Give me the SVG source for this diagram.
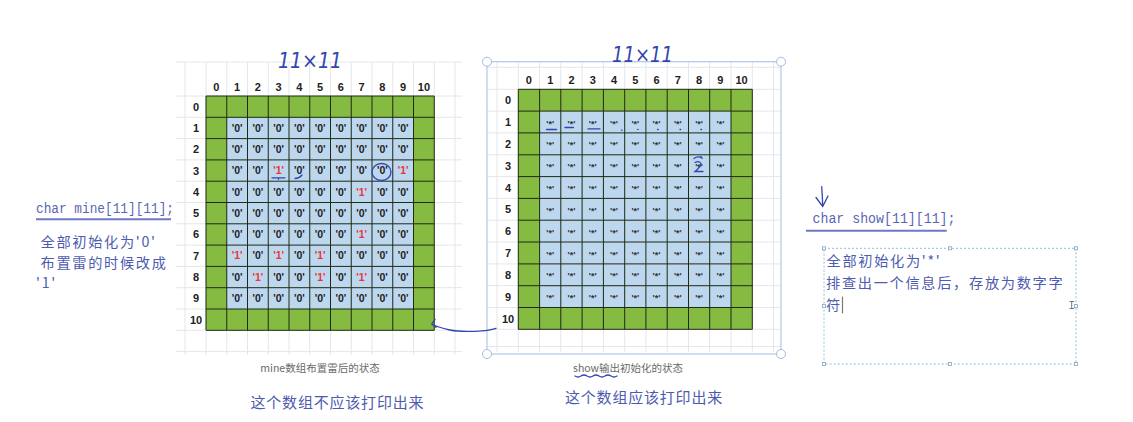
<svg xmlns="http://www.w3.org/2000/svg" width="1133" height="422" viewBox="0 0 1133 422">
<style>
.bg{stroke:#e4e6ea;stroke-width:1;fill:none}
.gl{stroke:#1f2a14;stroke-width:1;fill:none}
.gr{fill:#86bb42}
.bl{fill:#bdd7ee}
.hd{font:bold 11px "Liberation Sans",Arial,sans-serif;fill:#222;text-anchor:middle}
.cv{font:bold 10.5px "Liberation Sans",Arial,sans-serif;fill:#222;text-anchor:middle}
.r{fill:#ee3535}
.st{font:bold 9px "Liberation Sans",Arial,sans-serif;fill:#333;text-anchor:middle}
.ann{font-family:"Noto Sans CJK SC",sans-serif;font-size:14.2px;letter-spacing:1.7px;fill:#4d5bb0}
.big{font-family:"Noto Sans CJK SC",sans-serif;font-size:15px;letter-spacing:0.8px;fill:#4d5bb0}
.code{font-family:"Liberation Mono",monospace;font-size:14px;fill:#5a66b4}
.cap{font-family:"Noto Sans CJK SC",sans-serif;font-size:10.5px;fill:#6a6a6a;text-anchor:middle}
.hand{font-family:"DejaVu Sans ExtraLight","DejaVu Sans",sans-serif;font-weight:200;font-style:italic;font-size:21px;fill:#3345b0}
.pen{stroke:#3345b0;stroke-width:1.3;fill:none;stroke-linecap:round}
.hdl{fill:#fff;stroke:#a4bbe2;stroke-width:1}
.sq{fill:#fff;stroke:#7aa6c0;stroke-width:0.8}
</style>

<g id="left-grid">
  <path class="bg" d="M185,62V355M206,62V355M226.75,62V355M247.5,62V355M268.25,62V355M289,62V355M309.75,62V355M330.5,62V355M351.25,62V355M372,62V355M392.75,62V355M413.5,62V355M434.25,62V355M455,62V355M176,62H462M176,96H462M176,117.3H462M176,138.6H462M176,159.9H462M176,181.2H462M176,202.5H462M176,223.8H462M176,245.1H462M176,266.4H462M176,287.7H462M176,309H462M176,330.3H462M176,351.6H462"/>
  <rect class="gr" x="206" y="96" width="228.25" height="234.3"/>
  <rect class="bl" x="226.75" y="117.3" width="186.75" height="191.7"/>
  <path class="gl" d="M206,96V330.3M226.75,96V330.3M247.5,96V330.3M268.25,96V330.3M289,96V330.3M309.75,96V330.3M330.5,96V330.3M351.25,96V330.3M372,96V330.3M392.75,96V330.3M413.5,96V330.3M434.25,96V330.3M206,96H434.25M206,117.3H434.25M206,138.6H434.25M206,159.9H434.25M206,181.2H434.25M206,202.5H434.25M206,223.8H434.25M206,245.1H434.25M206,266.4H434.25M206,287.7H434.25M206,309H434.25M206,330.3H434.25"/>
  <g class="hd">
    <text x="216.4" y="91">0</text><text x="237.1" y="91">1</text><text x="257.9" y="91">2</text><text x="278.6" y="91">3</text><text x="299.4" y="91">4</text><text x="320.1" y="91">5</text><text x="340.9" y="91">6</text><text x="361.6" y="91">7</text><text x="382.4" y="91">8</text><text x="403.1" y="91">9</text><text x="423.9" y="91">10</text>
    <text x="196" y="110.6">0</text><text x="196" y="131.9">1</text><text x="196" y="153.2">2</text><text x="196" y="174.5">3</text><text x="196" y="195.8">4</text><text x="196" y="217.1">5</text><text x="196" y="238.4">6</text><text x="196" y="259.7">7</text><text x="196" y="281">8</text><text x="196" y="302.3">9</text><text x="196" y="323.6">10</text>
  </g>
  <g class="cv">
    <g transform="translate(0,131.6)"><text x="237.1">'0'</text><text x="257.9">'0'</text><text x="278.6">'0'</text><text x="299.4">'0'</text><text x="320.1">'0'</text><text x="340.9">'0'</text><text x="361.6">'0'</text><text x="382.4">'0'</text><text x="403.1">'0'</text></g>
    <g transform="translate(0,152.9)"><text x="237.1">'0'</text><text x="257.9">'0'</text><text x="278.6">'0'</text><text x="299.4">'0'</text><text x="320.1">'0'</text><text x="340.9">'0'</text><text x="361.6">'0'</text><text x="382.4">'0'</text><text x="403.1">'0'</text></g>
    <g transform="translate(0,174.2)"><text x="237.1">'0'</text><text x="257.9">'0'</text><text x="278.6" class="r">'1'</text><text x="299.4">'0'</text><text x="320.1">'0'</text><text x="340.9">'0'</text><text x="361.6">'0'</text><text x="382.4">'0'</text><text x="403.1" class="r">'1'</text></g>
    <g transform="translate(0,195.5)"><text x="237.1">'0'</text><text x="257.9">'0'</text><text x="278.6">'0'</text><text x="299.4">'0'</text><text x="320.1">'0'</text><text x="340.9">'0'</text><text x="361.6" class="r">'1'</text><text x="382.4">'0'</text><text x="403.1">'0'</text></g>
    <g transform="translate(0,216.8)"><text x="237.1">'0'</text><text x="257.9">'0'</text><text x="278.6">'0'</text><text x="299.4">'0'</text><text x="320.1">'0'</text><text x="340.9">'0'</text><text x="361.6">'0'</text><text x="382.4">'0'</text><text x="403.1">'0'</text></g>
    <g transform="translate(0,238.1)"><text x="237.1">'0'</text><text x="257.9">'0'</text><text x="278.6">'0'</text><text x="299.4">'0'</text><text x="320.1">'0'</text><text x="340.9">'0'</text><text x="361.6" class="r">'1'</text><text x="382.4">'0'</text><text x="403.1">'0'</text></g>
    <g transform="translate(0,259.4)"><text x="237.1" class="r">'1'</text><text x="257.9">'0'</text><text x="278.6" class="r">'1'</text><text x="299.4">'0'</text><text x="320.1" class="r">'1'</text><text x="340.9">'0'</text><text x="361.6">'0'</text><text x="382.4">'0'</text><text x="403.1">'0'</text></g>
    <g transform="translate(0,280.7)"><text x="237.1">'0'</text><text x="257.9" class="r">'1'</text><text x="278.6">'0'</text><text x="299.4">'0'</text><text x="320.1" class="r">'1'</text><text x="340.9">'0'</text><text x="361.6" class="r">'1'</text><text x="382.4">'0'</text><text x="403.1">'0'</text></g>
    <g transform="translate(0,302)"><text x="237.1">'0'</text><text x="257.9">'0'</text><text x="278.6">'0'</text><text x="299.4">'0'</text><text x="320.1">'0'</text><text x="340.9">'0'</text><text x="361.6">'0'</text><text x="382.4">'0'</text><text x="403.1">'0'</text></g>
  </g>
  <path class="pen" d="M272,177.8H285M278.5,177.8v1.5M295,178.5q4,0 7,-3.5"/>
  <ellipse class="pen" cx="381.5" cy="172" rx="9.5" ry="8.5" stroke-width="1.6"/>
  <text class="hand" x="278" y="68" textLength="64" lengthAdjust="spacingAndGlyphs">11×11</text>
  <text class="cap" x="320" y="372">mine数组布置雷后的状态</text>
</g>

<g id="right-grid">
  <path class="bg" d="M497,62V352M518.3,62V352M539.6,62V352M560.8,62V352M582.1,62V352M603.4,62V352M624.7,62V352M645.9,62V352M667.2,62V352M688.5,62V352M709.7,62V352M731,62V352M752.3,62V352M773.6,62V352M487,67.3H781M487,89.3H781M487,111.1H781M487,132.9H781M487,154.8H781M487,176.6H781M487,198.4H781M487,220.2H781M487,242H781M487,263.9H781M487,285.7H781M487,307.5H781M487,329.3H781M487,346.5H781"/>
  <rect x="487" y="61.7" width="294" height="292.3" fill="none" stroke="#b2c6ea" stroke-width="1.2"/>
  <circle class="hdl" cx="487" cy="61.7" r="4.5"/><circle class="hdl" cx="781" cy="61.7" r="4.5"/><circle class="hdl" cx="487" cy="354" r="4.5"/><circle class="hdl" cx="781" cy="354" r="4.5"/>
  <rect class="gr" x="518.3" y="89.3" width="234" height="240"/>
  <rect class="bl" x="539.6" y="111.1" width="191.4" height="196.4"/>
  <path class="gl" d="M518.3,89.3V329.3M539.6,89.3V329.3M560.8,89.3V329.3M582.1,89.3V329.3M603.4,89.3V329.3M624.7,89.3V329.3M645.9,89.3V329.3M667.2,89.3V329.3M688.5,89.3V329.3M709.7,89.3V329.3M731,89.3V329.3M752.3,89.3V329.3M518.3,89.3H752.3M518.3,111.1H752.3M518.3,132.9H752.3M518.3,154.8H752.3M518.3,176.6H752.3M518.3,198.4H752.3M518.3,220.2H752.3M518.3,242H752.3M518.3,263.9H752.3M518.3,285.7H752.3M518.3,307.5H752.3M518.3,329.3H752.3"/>
  <g class="hd">
    <text x="528.9" y="84">0</text><text x="550.2" y="84">1</text><text x="571.5" y="84">2</text><text x="592.7" y="84">3</text><text x="614" y="84">4</text><text x="635.3" y="84">5</text><text x="656.5" y="84">6</text><text x="677.8" y="84">7</text><text x="699.1" y="84">8</text><text x="720.4" y="84">9</text><text x="741.6" y="84">10</text>
    <text x="508" y="104.2">0</text><text x="508" y="126">1</text><text x="508" y="147.9">2</text><text x="508" y="169.7">3</text><text x="508" y="191.5">4</text><text x="508" y="213.3">5</text><text x="508" y="235.2">6</text><text x="508" y="257">7</text><text x="508" y="278.8">8</text><text x="508" y="300.7">9</text><text x="508" y="322.5">10</text>
  </g>
  <g class="st">
    <g transform="translate(0,126.5)"><text x="550.2">'*'</text><text x="571.5">'*'</text><text x="592.7">'*'</text><text x="614">'*'</text><text x="635.3">'*'</text><text x="656.5">'*'</text><text x="677.8">'*'</text><text x="699.1">'*'</text><text x="720.4">'*'</text></g>
    <g transform="translate(0,148.4)"><text x="550.2">'*'</text><text x="571.5">'*'</text><text x="592.7">'*'</text><text x="614">'*'</text><text x="635.3">'*'</text><text x="656.5">'*'</text><text x="677.8">'*'</text><text x="699.1">'*'</text><text x="720.4">'*'</text></g>
    <g transform="translate(0,170.2)"><text x="550.2">'*'</text><text x="571.5">'*'</text><text x="592.7">'*'</text><text x="614">'*'</text><text x="635.3">'*'</text><text x="656.5">'*'</text><text x="677.8">'*'</text><text x="699.1">'*'</text><text x="720.4">'*'</text></g>
    <g transform="translate(0,192)"><text x="550.2">'*'</text><text x="571.5">'*'</text><text x="592.7">'*'</text><text x="614">'*'</text><text x="635.3">'*'</text><text x="656.5">'*'</text><text x="677.8">'*'</text><text x="699.1">'*'</text><text x="720.4">'*'</text></g>
    <g transform="translate(0,213.8)"><text x="550.2">'*'</text><text x="571.5">'*'</text><text x="592.7">'*'</text><text x="614">'*'</text><text x="635.3">'*'</text><text x="656.5">'*'</text><text x="677.8">'*'</text><text x="699.1">'*'</text><text x="720.4">'*'</text></g>
    <g transform="translate(0,235.7)"><text x="550.2">'*'</text><text x="571.5">'*'</text><text x="592.7">'*'</text><text x="614">'*'</text><text x="635.3">'*'</text><text x="656.5">'*'</text><text x="677.8">'*'</text><text x="699.1">'*'</text><text x="720.4">'*'</text></g>
    <g transform="translate(0,257.5)"><text x="550.2">'*'</text><text x="571.5">'*'</text><text x="592.7">'*'</text><text x="614">'*'</text><text x="635.3">'*'</text><text x="656.5">'*'</text><text x="677.8">'*'</text><text x="699.1">'*'</text><text x="720.4">'*'</text></g>
    <g transform="translate(0,279.3)"><text x="550.2">'*'</text><text x="571.5">'*'</text><text x="592.7">'*'</text><text x="614">'*'</text><text x="635.3">'*'</text><text x="656.5">'*'</text><text x="677.8">'*'</text><text x="699.1">'*'</text><text x="720.4">'*'</text></g>
    <g transform="translate(0,301.2)"><text x="550.2">'*'</text><text x="571.5">'*'</text><text x="592.7">'*'</text><text x="614">'*'</text><text x="635.3">'*'</text><text x="656.5">'*'</text><text x="677.8">'*'</text><text x="699.1">'*'</text><text x="720.4">'*'</text></g>
  </g>
  <path class="pen" d="M546.5,129.5H556.5M565,127.5H573.5M588,128.8H600M621.5,130.2h0.6M637.5,129.3h0.6M657.5,129.5h0.6M680,129.5h0.6M701,129.5h0.6"/>
  <path class="pen" d="M694,158.5q4,-3 8,-0.5M701,156.5l1.2,1.8M695,162.5q4,-2 6,1q0,3 -6,8h8"/>
  <text class="hand" x="612" y="62" textLength="61" lengthAdjust="spacingAndGlyphs">11×11</text>
  <text class="cap" x="628" y="372">show输出初始化的状态</text>
  <path class="pen" stroke-width="1" d="M575,376q3,2 6,0t6,0t6,0t6,0t6,0t6,0t6,0"/>
</g>

<g id="mine-note">
  <text class="code" x="36" y="213" textLength="138" lengthAdjust="spacingAndGlyphs">char mine[11][11];</text>
  <path d="M36,219.3H171" stroke="#6e78c4" stroke-width="2"/>
  <text class="ann" x="40.5" y="246.5">全部初始化为'0'</text>
  <text class="ann" x="40.5" y="267.5">布置雷的时候改成</text>
  <text class="ann" x="36" y="288">'1'</text>
</g>

<g id="show-note">
  <path class="pen" d="M821.7,186.7Q822.5,197 822.7,206.5M816,197.5L822.7,206.5L828,196"/>
  <text class="code" x="812.5" y="223" textLength="143" lengthAdjust="spacingAndGlyphs">char show[11][11];</text>
  <path d="M806,230.7H946.7" stroke="#6e78c4" stroke-width="2"/>
  <rect x="824" y="248.3" width="252" height="115.7" fill="none" stroke="#8cc0d8" stroke-width="1" stroke-dasharray="2,2"/>
  <rect class="sq" x="822.5" y="246.8" width="3" height="3"/><rect class="sq" x="948.5" y="246.8" width="3" height="3"/><rect class="sq" x="1074.5" y="246.8" width="3" height="3"/><rect class="sq" x="822.5" y="304.6" width="3" height="3"/><rect class="sq" x="1074.5" y="304.6" width="3" height="3"/><rect class="sq" x="822.5" y="362.5" width="3" height="3"/><rect class="sq" x="948.5" y="362.5" width="3" height="3"/><rect class="sq" x="1074.5" y="362.5" width="3" height="3"/>
  <text class="ann" x="826.5" y="265.5">全部初始化为'*'</text>
  <text class="ann" x="826" y="287.5">排查出一个信息后，存放为数字字</text>
  <text class="ann" x="826" y="309.5">符</text>
  <path d="M842.5,296.7V313.3" stroke="#777" stroke-width="1.2"/>
  <path d="M1069.5,301.5h4.5M1071.7,301.5v7M1069.5,308.5h4.5" stroke="#666" stroke-width="0.9" fill="none"/>
</g>

<g id="bottom-notes">
  <text class="big" x="250.5" y="408">这个数组不应该打印出来</text>
  <text class="big" x="565" y="403">这个数组应该打印出来</text>
</g>

<g id="connectors">
  <path class="pen" d="M496,328.3C488,331.5 462,332.5 450,330C441,328 435,326 431.7,324M435,319.3L431.7,324L436,327.3"/>
</g>
</svg>
